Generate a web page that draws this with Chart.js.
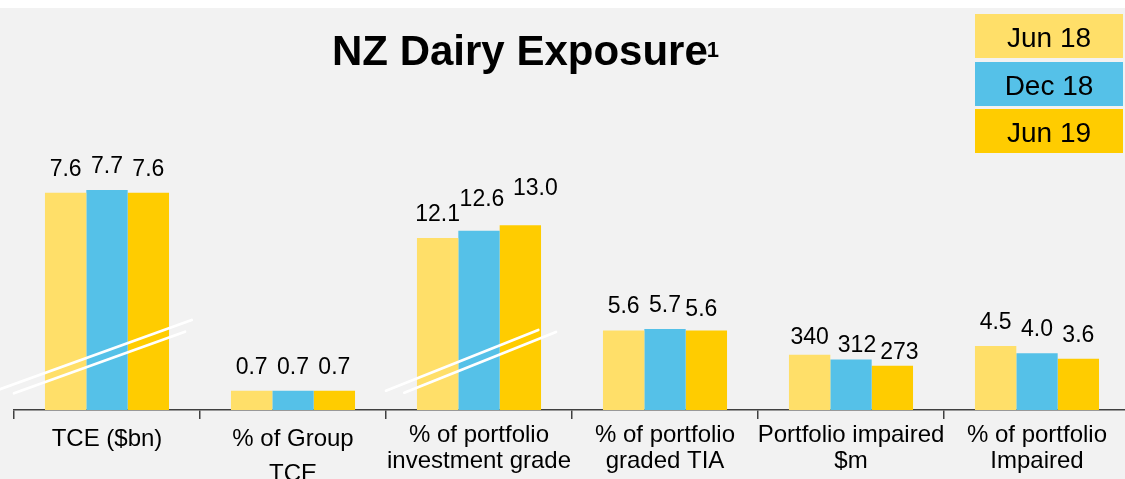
<!DOCTYPE html>
<html>
<head>
<meta charset="utf-8">
<title>NZ Dairy Exposure</title>
<script src="https://cdn.jsdelivr.net/npm/chart.js@4"></script>
<style>
  html, body { margin: 0; padding: 0; background: #fff; overflow: hidden; }
  #wrap { position: absolute; left: 0; top: 8px; width: 1131px; height: 471px; background: #f2f2f2; }
</style>
</head>
<body>
<div id="wrap"><canvas id="dairy" width="1131" height="471"></canvas></div>
<script>
const categories = [
  'TCE ($bn)',
  ['% of Group', 'TCE'],
  ['% of portfolio', 'investment grade'],
  ['% of portfolio', 'graded TIA'],
  ['Portfolio impaired', '$m'],
  ['% of portfolio', 'Impaired']
]
const seriesNames = ['Jun 18', 'Dec 18', 'Jun 19']
const jun18 = [7.6, 0.7, 12.1, 5.6, 340, 4.5]
const dec18 = [7.7, 0.7, 12.6, 5.7, 312, 4.0]
const jun19 = [7.6, 0.7, 13.0, 5.6, 273, 3.6]
const decimals = [1, 1, 1, 1, 0, 1]

// every category has its own unit, so each one sits on its own hidden value axis
const categoryAxis = ['yTce', 'yGroup', 'yPct', 'yPct', 'yM', 'yPct']
const axisMax = { yTce: 10.5, yGroup: 10.9, yPct: 21.1, yM: 1850 }

const colors = ['#ffdf69', '#55c1e8', '#ffcc00']
const FONT = '"Liberation Sans", Arial, sans-serif'

// value labels that were moved by hand so they don't collide ([category, series] -> [dx, dy])
const labelNudge = {
  '2,1': [3, -8],
  '2,2': [15, -13],
  '3,2': [-5, 3],
  '4,0': [0, 6.5],
  '4,1': [6, 9.5],
  '4,2': [7, 10]
}

// white double slashes showing the value axis is broken on those bars
// offsets are from the category centre and the baseline
const breakMarks = [
  { category: 0, lines: [[-107, -20.7, 84.7, -90], [-93, -16.7, 78, -78.3]] },
  { category: 2, lines: [[-93, -19.3, 59.3, -80], [-74.7, -17.3, 77, -78]] }
]

const seriesValues = [jun18, dec18, jun19]
const datasets = []
seriesValues.forEach((values, s) => {
  Object.keys(axisMax).forEach(axisId => {
    datasets.push({
      label: seriesNames[s],
      series: s,
      data: values.map((v, i) => (categoryAxis[i] === axisId ? v : null)),
      yAxisID: axisId,
      backgroundColor: colors[s],
      borderWidth: 0,
      skipNull: true,
      barPercentage: 1,
      categoryPercentage: 0.667
    })
  })
})

const scales = {
  x: {
    offset: true,
    grid: {
      offset: true,
      drawOnChartArea: false,
      drawTicks: true,
      tickLength: 9,
      color: '#404040',
      lineWidth: 1.5
    },
    border: { display: true, color: '#404040', width: 1.5 },
    ticks: {
      color: '#000',
      padding: 3,
      maxRotation: 0,
      autoSkip: false,
      // the first two labels sit a little lower
      font: c => ({ family: FONT, size: 24, lineHeight: c.index < 2 ? 1.45 : 1.1 })
    },
    afterFit: scale => {
      scale.height = 69
    }
  }
}
Object.keys(axisMax).forEach(id => {
  scales[id] = { display: false, position: 'left', min: 0, max: axisMax[id] }
})

const breaks = {
  id: 'breaks',
  afterDatasetsDraw(chart) {
    const ctx = chart.ctx
    const xs = chart.scales.x
    const base = chart.chartArea.bottom
    ctx.save()
    ctx.strokeStyle = '#fff'
    ctx.lineWidth = 2.7
    ctx.lineCap = 'round'
    breakMarks.forEach(b => {
      const cx = xs.getPixelForValue(b.category)
      b.lines.forEach(l => {
        ctx.beginPath()
        ctx.moveTo(cx + l[0], base + l[1])
        ctx.lineTo(cx + l[2], base + l[3])
        ctx.stroke()
      })
    })
    ctx.restore()
  }
}

const valueLabels = {
  id: 'valueLabels',
  afterDatasetsDraw(chart) {
    const ctx = chart.ctx
    ctx.save()
    ctx.font = '23px ' + FONT
    ctx.fillStyle = '#000'
    ctx.textAlign = 'center'
    ctx.textBaseline = 'alphabetic'
    chart.data.datasets.forEach((ds, d) => {
      chart.getDatasetMeta(d).data.forEach((bar, i) => {
        const v = ds.data[i]
        if (v === null) return
        const nudge = labelNudge[i + ',' + ds.series] || [0, 0]
        ctx.fillText(v.toFixed(decimals[i]), bar.x + nudge[0], bar.y - 17 + nudge[1])
      })
    })
    ctx.restore()
  }
}

// title with its footnote marker, and the boxed legend top right
const header = {
  id: 'header',
  afterDraw(chart) {
    const ctx = chart.ctx
    ctx.save()
    ctx.fillStyle = '#000'
    ctx.textAlign = 'left'
    ctx.textBaseline = 'alphabetic'
    ctx.font = 'bold 42px ' + FONT
    const title = 'NZ Dairy Exposure'
    ctx.fillText(title, 332, 57)
    const w = ctx.measureText(title).width
    ctx.font = 'bold 22px ' + FONT
    ctx.fillText('1', 332 + w - 1, 49)

    const boxTops = [6, 54, 101]
    ctx.font = '28px ' + FONT
    ctx.textAlign = 'center'
    seriesNames.forEach((name, s) => {
      ctx.fillStyle = colors[s]
      ctx.fillRect(975, boxTops[s], 148, 44)
      ctx.fillStyle = '#000'
      ctx.fillText(name, 975 + 74, boxTops[s] + 33)
    })
    ctx.restore()
  }
}

Chart.defaults.font.family = FONT

new Chart(document.getElementById('dairy'), {
  type: 'bar',
  data: { labels: categories, datasets: datasets },
  options: {
    responsive: false,
    animation: false,
    layout: { padding: { top: 102, left: 14, right: 1, bottom: 0 } },
    plugins: {
      legend: { display: false },
      title: { display: false },
      tooltip: { enabled: false }
    },
    scales: scales
  },
  plugins: [breaks, valueLabels, header]
})
</script>
</body>
</html>
